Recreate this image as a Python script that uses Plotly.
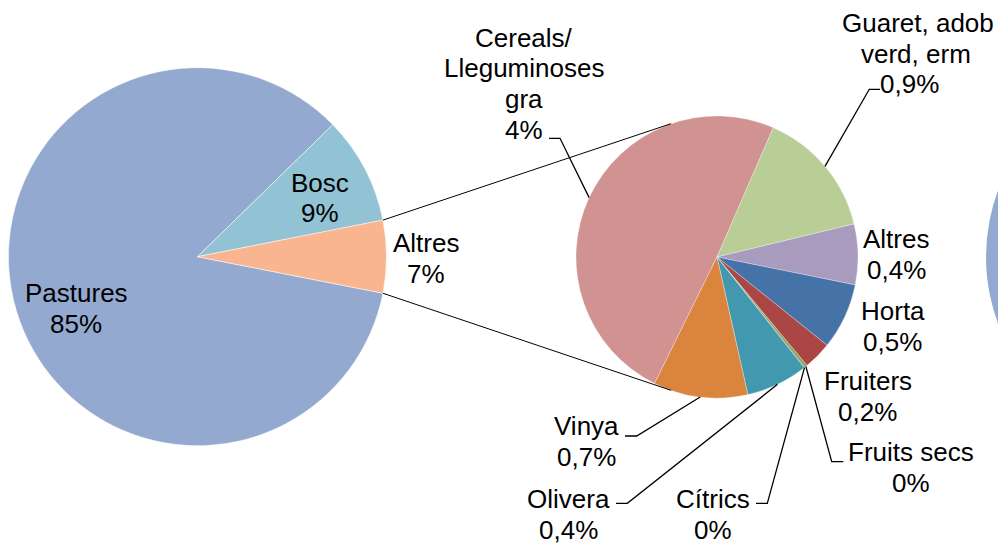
import math
import plotly.graph_objects as go

W, H = 998, 545

# ---------------- data ----------------
main_labels = ["Pastures", "Bosc", "Altres"]
main_values = [84.6, 9.2, 6.2]
main_pct = ["85%", "9%", "7%"]

sub_labels = ["Cereals/<br>Lleguminoses<br>gra", "Guaret, adob<br>verd, erm", "Altres", "Horta",
              "Fruiters", "Fruits secs", "Cítrics", "Olivera", "Vinya"]
sub_values = [3.05, 0.91, 0.43, 0.47, 0.20, 0.02, 0.005, 0.44, 0.67]
sub_pct = ["4%", "0,9%", "0,4%", "0,5%", "0,2%", "0%", "0%", "0,4%", "0,7%"]

# ---------------- style / layout ----------------
main_colors = ["#93A9CF", "#91C3D5", "#F9B590"]
sub_colors = ["#D19392", "#B9CD96", "#A99BBD", "#4572A7", "#AA4643",
              "#89A54E", "#71588F", "#4198AF", "#DB843D"]
FONT = "Liberation Sans, Arial, sans-serif"
FS = 26
LINE = 30.8

L_CX, L_CY, L_R = 197.5, 256.7, 189
R_CX, R_CY, R_R = 717, 257, 141
L_ROT = 90 + 360 * main_values[-1] / sum(main_values) / 2  # split slice centred at 3 o'clock
R_ROT = 206.3
CONNECT_ANG = 19  # series lines meet secondary pie this many degrees from vertical

# label text blocks: (centre x [or per-line list], first baseline) in px
main_label_pos = [(76.3, 301.7), (320, 191.7), (426.3, 252.3)]
sub_label_pos = [(524, 46.7), ([917.5, 915.5, 909.5], 31.7), (896.3, 248.3), (892.5, 320),
                 (867.5, 390), (911, 461), (713.3, 508.3), (568, 508.3), (586.3, 435)]
# leader lines: slice index -> (x at text, x at elbow, y)
leaders = {0: (549, 560, 138.3), 1: (880, 869.3, 89.3), 5: (843.3, 831.7, 461.7),
           6: (756, 767.3, 503.3), 7: (616, 627.3, 503.3), 8: (625, 636.7, 436)}


def px(x):
    return x / W


def py(y):
    return 1 - y / H


def arc_point(cx, cy, r, ang):
    a = math.radians(ang)
    return cx + r * math.sin(a), cy - r * math.cos(a)


def slice_edges(values, rot, i):
    tot = sum(values)
    start = rot + 360 * sum(values[:i]) / tot
    return start, start + 360 * values[i] / tot


fig = go.Figure()
fig.add_trace(go.Pie(
    labels=main_labels, values=main_values, sort=False, direction="clockwise",
    rotation=L_ROT, textinfo="none", showlegend=False,
    marker=dict(colors=main_colors, line=dict(color="white", width=0.5)),
    domain=dict(x=[px(L_CX - L_R), px(L_CX + L_R)], y=[py(L_CY + L_R), py(L_CY - L_R)]),
))
fig.add_trace(go.Pie(
    labels=[s.replace("<br>", " ") for s in sub_labels], values=sub_values, sort=False,
    direction="clockwise", rotation=R_ROT, textinfo="none", showlegend=False,
    marker=dict(colors=sub_colors, line=dict(color="white", width=0.3)),
    domain=dict(x=[px(R_CX - R_R), px(R_CX + R_R)], y=[py(R_CY + R_R), py(R_CY - R_R)]),
))

annotations = []


def add_label(lines, xpos, base):
    for k, t in enumerate(lines):
        x = xpos[k] if isinstance(xpos, list) else xpos
        annotations.append(dict(
            x=px(x), y=py(base + k * LINE - 9), xref="paper", yref="paper",
            text=t, showarrow=False, xanchor="center", yanchor="middle",
            font=dict(family=FONT, size=FS, color="#000000")))


for name, pct, (x, b) in zip(main_labels, main_pct, main_label_pos):
    add_label(name.split("<br>") + [pct], x, b)
for name, pct, (x, b) in zip(sub_labels, sub_pct, sub_label_pos):
    add_label(name.split("<br>") + [pct], x, b)

shapes = []
# series lines between the pies
a0, a1 = slice_edges(main_values, L_ROT, len(main_values) - 1)
p_up = arc_point(L_CX, L_CY, L_R, a0)
p_dn = arc_point(L_CX, L_CY, L_R, a1)
q_up = arc_point(R_CX, R_CY, R_R, 360 - CONNECT_ANG)
q_dn = arc_point(R_CX, R_CY, R_R, 180 + CONNECT_ANG)
for p, q in [(p_up, q_up), (p_dn, q_dn)]:
    shapes.append(dict(type="line", xref="paper", yref="paper",
                       x0=px(p[0]), y0=py(p[1]), x1=px(q[0]), y1=py(q[1]),
                       line=dict(color="#000000", width=1)))

# leader lines to the slice midpoints
for i, (xt, xe, y) in leaders.items():
    s, e = slice_edges(sub_values, R_ROT, i)
    mx, my = arc_point(R_CX, R_CY, R_R, (s + e) / 2)
    path = f"M {px(xt)},{py(y)} L {px(xe)},{py(y)} L {px(mx)},{py(my)}"
    shapes.append(dict(type="path", xref="paper", yref="paper", path=path,
                       line=dict(color="#000000", width=1.3)))

# edge of the neighbouring chart's pie, cut off at the right border
shapes.append(dict(type="circle", xref="paper", yref="paper", layer="below",
                   x0=px(1176 - 190), x1=px(1176 + 190), y0=py(257 + 190), y1=py(257 - 190),
                   fillcolor="#93A9CF", line=dict(width=0)))

fig.update_layout(
    width=W, height=H, margin=dict(l=0, r=0, t=0, b=0),
    paper_bgcolor="white", plot_bgcolor="white",
    annotations=annotations, shapes=shapes, showlegend=False,
    font=dict(family=FONT, size=FS, color="#000000"),
)
fig.write_html(
    "out.html",
    config={"displayModeBar": False},
    post_script="document.body.style.margin='0';document.body.style.overflow='hidden';",
)
